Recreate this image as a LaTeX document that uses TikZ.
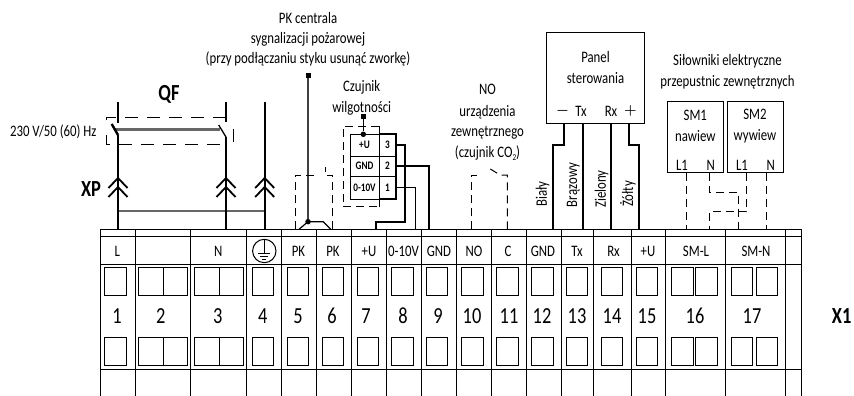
\documentclass[tikz,border=0pt]{standalone}
\usepackage{fontspec}
\setmainfont[FakeStretch=0.8]{Carlito}
\newcommand{\txtsize}{\fontsize{16}{20}\selectfont}
\begin{document}
\begin{tikzpicture}[x=1pt,y=-1pt,>=latex]
\tikzset{
  lbl/.style={inner sep=0,font=\txtsize,align=center},
  lblsign/.style={inner sep=0,font=\fontsize{14}{16}\selectfont\boldmath},
  lblbig/.style={inner sep=0,font=\fontsize{23}{25}\selectfont\bfseries},
  lblnum/.style={inner sep=0,font=\fontsize{23}{25}\selectfont},
  lblsmall/.style={inner sep=0,font=\fontsize{11.5}{13}\selectfont\bfseries},
  grid/.style={line width=1pt},
  socket/.style={draw,line width=1pt,inner sep=0,outer sep=0,minimum height=28.5pt},
  device/.style={draw,line width=1pt,inner sep=0,outer sep=0},
  mains/.style={line width=1.8pt},
  signal/.style={line width=1.2pt},
  bus/.style={line width=2.2pt},
  link/.style={line width=1pt,dash pattern=on 8pt off 5pt},
  coupling/.style={line width=2.6pt,black!60},
  chevron/.style={line width=1.8pt},
  blob/.style={fill,inner sep=0,minimum size=5pt},
  dot/.style={fill,circle,inner sep=0,minimum size=5.5pt}
}
\useasboundingbox (0,0) rectangle (854,396);
% terminal strip
\foreach \y in {229.3,236,264,369.3}
  \draw[grid] (100,\y) -- (801.7,\y);
\foreach \x in {100,135,190.7,246.7,281.7,316.7,351.7,386.7,421.7,456,491.3,526,561.3,593.3,631,665.7,725.7,785.7,801.7}
  \draw[grid] (\x,229.3) -- (\x,396);
\foreach \x/\w [count=\i] in {115.8/21.7,150.8/25,175.5/24.4,206.5/25,231.2/24.3,262.8/21,297.8/21,332.8/21,367.8/21,402.5/21.6,437.2/21,472.5/21.6,507.2/22.3,542.5/21.6,577.2/21,612/21.4,646.7/21.3,682.3/22,706.8/21.7,741.9/21.7,766.7/21.3}{
  \node[socket,minimum width=\w pt] (st\i) at (\x,281.7) {};
  \node[socket,minimum width=\w pt] (sb\i) at (\x,351.5) {};
}
\foreach \x/\t [count=\i] in {117.3/L,218.3/N,298.5/PK,333/PK,369/+U,403.5/0-10V,439/GND,474/NO,508/C,543/GND,577/Tx,613.5/Rx,648/+U,696/SM-L,756/SM-N}
  \node[lbl] (name\i) at (\x,251.7) {\t};
\foreach \x/\t in {117/1,160.7/2,217.7/3,262.7/4,298/5,332/6,366/7,403/8,438/9,472/10,509/11,542/12,577/13,612/14,647/15,695/16,752/17}
  \node[lblnum] (num\t) at (\x,315.7) {\t};
\node[device,circle,minimum size=23.4pt] (pe) at (264.3,251) {};
\draw[line width=1pt] (pe.north) -- (264.3,253.3);
\draw[line width=1pt] (258.3,253.3) -- (270.3,253.3);
\draw[line width=1pt] (260.3,256.4) -- (268.3,256.4);
\draw[line width=1pt] (262.3,259) -- (266.3,259);
\node[lblbig] (xone) at (841.7,315.7) {X1};
% mains side
\node[lblbig] (qf) at (169,94) {QF};
\node[lblbig] (xp) at (91,189) {XP};
\node[lbl] (supply) at (53.3,132) {230 V/50 (60) Hz};
\coordinate (ltop) at (118,101.7);
\coordinate (lfix) at (118,123);
\coordinate (lfree) at (111.7,124);
\coordinate (lpiv) at (118,135);
\coordinate (lend) at (118,229.3);
\coordinate (ntop) at (226,101.7);
\coordinate (nfix) at (226,122);
\coordinate (nfree) at (218.7,125);
\coordinate (npiv) at (226,137);
\coordinate (nend) at (226,229.3);
\coordinate (petop) at (264.7,101.7);
\coordinate (peend) at (264.7,229.3);
\draw[coupling] (115,129.5) -- (220,129.5);
\draw[coupling] (118,211) -- (264.7,211);
\draw[mains] (ltop) -- (lfix);
\draw[line width=2.4pt] (lfree) -- (lpiv);
\draw[mains] (lpiv) -- (lend);
\draw[mains] (ntop) -- (nfix);
\draw[line width=1.3pt] (nfree) -- (npiv);
\draw[mains] (npiv) -- (nend);
\draw[mains] (petop) -- (peend);
\draw[line width=1pt,dash pattern=on 13pt off 9pt] (106,120) -- (106,117.3) -- (230.7,117.3);
\draw[line width=1pt,dash pattern=on 13pt off 9pt] (106,135) -- (106,144) -- (220,144);
\draw[line width=1pt] (233,129) -- (233,142);
\foreach \x in {118,226,264.7}{
  \draw[chevron] (\x-9.5,188) -- (\x,178) -- (\x+9.5,188);
  \draw[chevron] (\x-9.5,197) -- (\x,187) -- (\x+9.5,197);
}
% fire alarm contact
\node[lbl] (firetext) at (308,39.5) {PK centrala\\sygnalizacji pożarowej\\(przy podłączaniu styku usunąć zworkę)};
\node[blob] (fireterm) at (308,75.3) {};
\node[dot] (firedot) at (308,221.7) {};
\draw[line width=1.1pt,black!75] (fireterm) -- (firedot);
\draw[signal] (299,229.3) -- (firedot.center) -- (323.3,221.7) -- (330.7,229.3);
\draw[link] (295.3,229.3) -- (295.3,175) -- (315,175);
\draw[link] (332.3,229.3) -- (332.3,175) -- (325,175) -- (325,167);
% humidity sensor
\node[lbl] (rhtext) at (361.7,97.5) {Czujnik\\[1pt]wilgotności};
\node[device,minimum width=29pt,minimum height=21.7pt] (rhu) at (364.5,145.2) {};
\node[device,minimum width=29pt,minimum height=20pt] (rhg) at (364.5,166) {};
\node[device,minimum width=29pt,minimum height=23pt] (rho) at (364.5,187.5) {};
\node[device,minimum width=17pt,minimum height=21.7pt] (pinc) at (387.5,145.2) {};
\node[device,minimum width=17pt,minimum height=20pt] (pinb) at (387.5,166) {};
\node[device,minimum width=17pt,minimum height=23pt] (pina) at (387.5,187.5) {};
\draw[line width=2pt] (pinc.north west) -- (pinc.north east) -- (pina.south east) -- (pina.south west);
\node[lblsmall] at (rhu) {+U};
\node[lblsmall] at (rhg) {GND};
\node[lblsmall] at (rho) {0-10V};
\node[lblsmall] at (pinc) {3};
\node[lblsmall] at (pinb) {2};
\node[lblsmall] at (pina) {1};
\node[blob] (rhterm) at (363.3,116.3) {};
\node[dot] (rhdot) at (363.3,134.3) {};
\draw[line width=1.1pt] (rhterm) -- (rhdot);
\draw[line width=1pt,dash pattern=on 8pt off 5pt] (379,126) -- (343,126) -- (343,206.7) -- (379,206.7);
\draw[line width=1pt] (379,126) -- (379,206.7);
\coordinate (seven) at (376.3,229.3);
\coordinate (eight) at (415.7,229.3);
\coordinate (nine) at (429,229.3);
\draw[line width=1.7pt] (pinc.east) -- (405.3,145.2) -- (405.3,221.7) -- (376.3,221.7) -- (seven);
\draw[line width=1.3pt] (pinb.east) -- (429,166) -- (nine);
\draw[line width=1.2pt] (pina.east) -- (415.7,187.5) -- (eight);
% NO contact
\node[lbl] (notext) at (487.5,122.5) {NO\\[1.5pt]urządzenia\\[.5pt]zewnętrznego\\[1pt](czujnik CO\raisebox{-3pt}{\fontsize{9}{9}\selectfont 2})};
\draw[link] (471.3,229.3) -- (471.3,175) -- (477,175);
\draw[link] (507.3,229.3) -- (507.3,175) -- (500,175) -- (486.7,166.7);
% panel
\node[device,minimum width=98pt,minimum height=91pt] (panel) at (595.7,78.2) {};
\node[lbl] (paneltext) at (595.5,68) {Panel\\[1pt]sterowania};
\node[lblsign] (pminus) at (562.5,111) {$-$};
\node[lbl] (ptx) at (581,111) {Tx};
\node[lbl] (prx) at (611,111) {Rx};
\node[lblsign] (pplus) at (630.5,111) {$+$};
\coordinate (wmt) at (564,123.7);
\coordinate (wtt) at (583.3,123.7);
\coordinate (wrt) at (610.7,123.7);
\coordinate (wpt) at (629.3,123.7);
\draw[bus] (wmt) -- (564,145.3) -- (553.3,145.3) -- (553.3,229.3);
\draw[bus] (wtt) -- (583.3,229.3);
\draw[mains] (wrt) -- (610.7,229.3);
\draw[bus] (wpt) -- (629.3,145.3) -- (638.7,145.3) -- (638.7,229.3);
\node[lbl,rotate=90] (white) at (542.7,194) {Biały};
\node[lbl,rotate=90] (brown) at (573.3,185) {Brązowy};
\node[lbl,rotate=90] (green) at (601.7,189) {Zielony};
\node[lbl,rotate=90] (yellow) at (628,194) {Żółty};
% actuators
\node[lbl] (smtext) at (727.5,72) {Siłowniki elektryczne\\[1pt]przepustnic zewnętrznych};
\node[device,minimum width=55.3pt,minimum height=70.7pt] (smone) at (695.6,137.3) {};
\node[device,minimum width=55.3pt,minimum height=70.7pt] (smtwo) at (755.6,137.3) {};
\node[lbl] (smonet) at (695.3,126) {SM1\\[1pt]nawiew};
\node[lbl] (smtwot) at (755,126) {SM2\\[1pt]wywiew};
\node[lbl] (lone) at (682,165) {L1};
\node[lbl] (none) at (710.7,165) {N};
\node[lbl] (ltwo) at (742,165) {L1};
\node[lbl] (ntwo) at (770.7,165) {N};
\coordinate (sa) at (686.7,172.7);
\coordinate (sb) at (709.3,172.7);
\coordinate (sc) at (746.7,172.7);
\coordinate (sd) at (766.7,172.7);
\draw[link] (sa) -- (686.7,229.3);
\draw[link] (sb) -- (709.3,192) -- (738.3,192) -- (738.3,229.3);
\draw[link] (sc) -- (746.7,211.7) -- (709.3,211.7) -- (709.3,229.3);
\draw[link] (sd) -- (766.7,229.3);
\end{tikzpicture}
\end{document}
